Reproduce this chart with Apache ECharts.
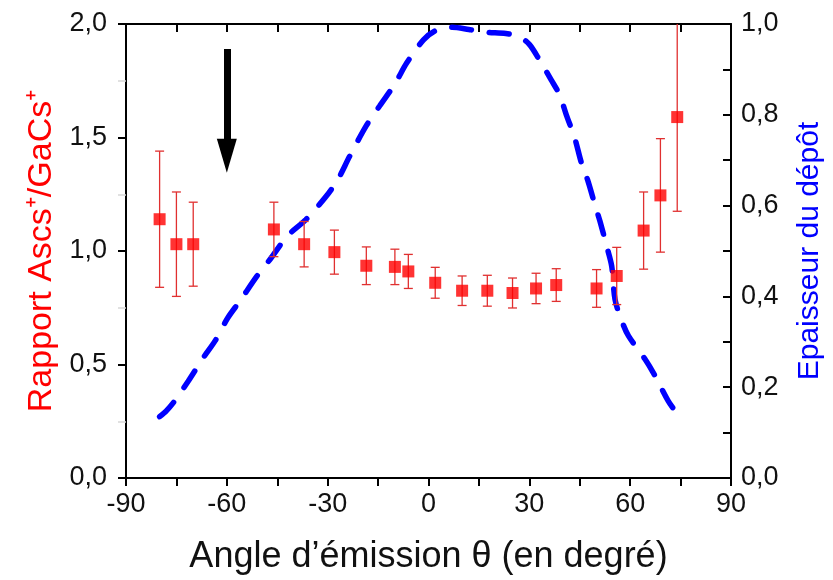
<!DOCTYPE html>
<html><head><meta charset="utf-8">
<script src="https://cdn.jsdelivr.net/npm/echarts@6/dist/echarts.min.js"></script>
<style>html,body{margin:0;padding:0;background:#fff}#c{width:833px;height:580px}</style>
</head><body><div id="c"></div>
<script>
// Ratio As/Ga measurements (left axis)
const angles = [-80, -75, -70, -46, -37, -28, -18.5, -10, -6, 2, 10, 17.5, 25, 32, 38, 50, 56, 64, 69, 74];
const ratio = [1.14, 1.03, 1.03, 1.095, 1.03, 0.995, 0.935, 0.93, 0.91, 0.86, 0.825, 0.825, 0.815, 0.835, 0.85, 0.835, 0.89, 1.09, 1.245, 1.59];
const ratioErr = [0.30, 0.23, 0.185, 0.12, 0.10, 0.097, 0.083, 0.078, 0.075, 0.068, 0.065, 0.068, 0.066, 0.067, 0.072, 0.083, 0.126, 0.17, 0.25, 0.415];
// Deposit thickness curve (right axis)
const thickAngle = [-80, -78, -75.5, -71.5, -67, -63.5, -59.7, -56, -51, -47, -42, -36.5, -30.5, -27, -23.5, -18.5, -14.5, -10, -6.5, -1.5, 2, 7, 12, 17, 23, 27, 30, 33, 36.5, 39, 41, 43.5, 45.5, 47.5, 49.5, 51, 53, 54.5, 55.5, 57.5, 59.5, 64.4, 67.4, 71.3, 74.8];
const thickness = [0.135, 0.148, 0.17, 0.213, 0.265, 0.302, 0.353, 0.391, 0.445, 0.483, 0.533, 0.569, 0.62, 0.657, 0.708, 0.776, 0.82, 0.868, 0.914, 0.965, 0.985, 0.993, 0.988, 0.982, 0.979, 0.972, 0.955, 0.921, 0.877, 0.844, 0.8, 0.749, 0.694, 0.653, 0.602, 0.566, 0.511, 0.467, 0.393, 0.346, 0.313, 0.262, 0.225, 0.17, 0.133];
// Arrow annotation (data coords)
const arrowX = -60, arrowFrom = 1.89, arrowTo = 1.42;

const FONT = "'Liberation Sans', Arial, sans-serif";
const fmt = v => v.toFixed(1).replace('.', ',');
const chart = echarts.init(document.getElementById('c'), null, {renderer: 'canvas'});
const axLine = {show: true, onZero: false, lineStyle: {color: '#000', width: 2}};
const tick = (inside) => ({show: true, inside: inside, length: 8, lineStyle: {color: '#000', width: 2}});
const minor = {show: true, splitNumber: 2, length: 8, lineStyle: {color: '#000', width: 2}};
const faintMinor = {show: true, splitNumber: 2, length: 8, lineStyle: {color: '#d8d8d8', width: 1.5}};

chart.setOption({
  animation: false,
  backgroundColor: '#fff',
  grid: {left: 126, right: 100, top: 24, bottom: 101, containLabel: false},
  xAxis: [{
    type: 'value', min: -90, max: 90, interval: 30, position: 'bottom',
    axisLine: axLine, axisTick: tick(false), minorTick: minor, splitLine: {show: false},
    axisLabel: {color: '#111', fontSize: 27, fontFamily: FONT, margin: 13},
    name: 'Angle d’émission θ (en degré)', nameLocation: 'middle', nameGap: 61,
    nameTextStyle: {color: '#111', fontSize: 36, fontFamily: FONT}
  }, {
    type: 'value', min: -90, max: 90, interval: 15, position: 'top',
    axisLine: axLine, axisTick: tick(true), axisLabel: {show: false}, splitLine: {show: false}
  }],
  yAxis: [{
    type: 'value', min: 0, max: 2, interval: 0.5, position: 'left',
    axisLine: axLine, axisTick: tick(false), minorTick: faintMinor, splitLine: {show: false},
    axisLabel: {color: '#111', fontSize: 27, fontFamily: FONT, margin: 19, formatter: fmt},
    name: 'Rapport Ascs⁺/GaCs⁺', nameLocation: 'middle', nameGap: 64, nameRotate: 90,
    nameTextStyle: {color: '#ff0000', fontSize: 34, fontFamily: FONT}
  }, {
    type: 'value', min: 0, max: 1, interval: 0.2, position: 'right',
    axisLine: axLine, axisTick: tick(true), minorTick: minor, splitLine: {show: false},
    axisLabel: {color: '#111', fontSize: 27, fontFamily: FONT, margin: 10, formatter: fmt},
    name: 'Epaisseur du dépôt', nameLocation: 'middle', nameGap: 64, nameRotate: 90,
    nameTextStyle: {color: '#0000ff', fontSize: 30, fontFamily: FONT}
  }],
  series: [{
    type: 'line', xAxisIndex: 0, yAxisIndex: 1, symbol: 'none', smooth: 0.3,
    data: thickAngle.map((a, i) => [a, thickness[i]]),
    lineStyle: {color: '#0000ff', width: 5.5, type: [20, 18], cap: 'round'},
    z: 2
  }, {
    type: 'custom', xAxisIndex: 0, yAxisIndex: 0, clip: true,
    data: angles.map((a, i) => [a, ratio[i] - ratioErr[i], ratio[i] + ratioErr[i]]),
    renderItem: function (params, api) {
      const x = api.value(0);
      const p1 = api.coord([x, api.value(2)]);
      const p2 = api.coord([x, api.value(1)]);
      const w = 4.5;
      const st = {stroke: '#e03030', lineWidth: 1.3};
      return {type: 'group', children: [
        {type: 'line', shape: {x1: p1[0], y1: p1[1], x2: p2[0], y2: p2[1]}, style: st},
        {type: 'line', shape: {x1: p1[0] - w, y1: p1[1], x2: p1[0] + w, y2: p1[1]}, style: st},
        {type: 'line', shape: {x1: p2[0] - w, y1: p2[1], x2: p2[0] + w, y2: p2[1]}, style: st}
      ]};
    },
    z: 3
  }, {
    type: 'scatter', xAxisIndex: 0, yAxisIndex: 0, symbol: 'rect', symbolSize: 12,
    itemStyle: {color: '#ff0000'},
    data: angles.map((a, i) => [a, ratio[i]]),
    z: 4,
    markLine: {
      silent: true, symbol: ['none', 'triangle'], symbolSize: [20, 34],
      label: {show: false},
      lineStyle: {color: '#000', width: 7, type: 'solid'},
      data: [[{coord: [arrowX, arrowFrom]}, {coord: [arrowX, arrowTo]}]]
    }
  }]
});
</script></body></html>
